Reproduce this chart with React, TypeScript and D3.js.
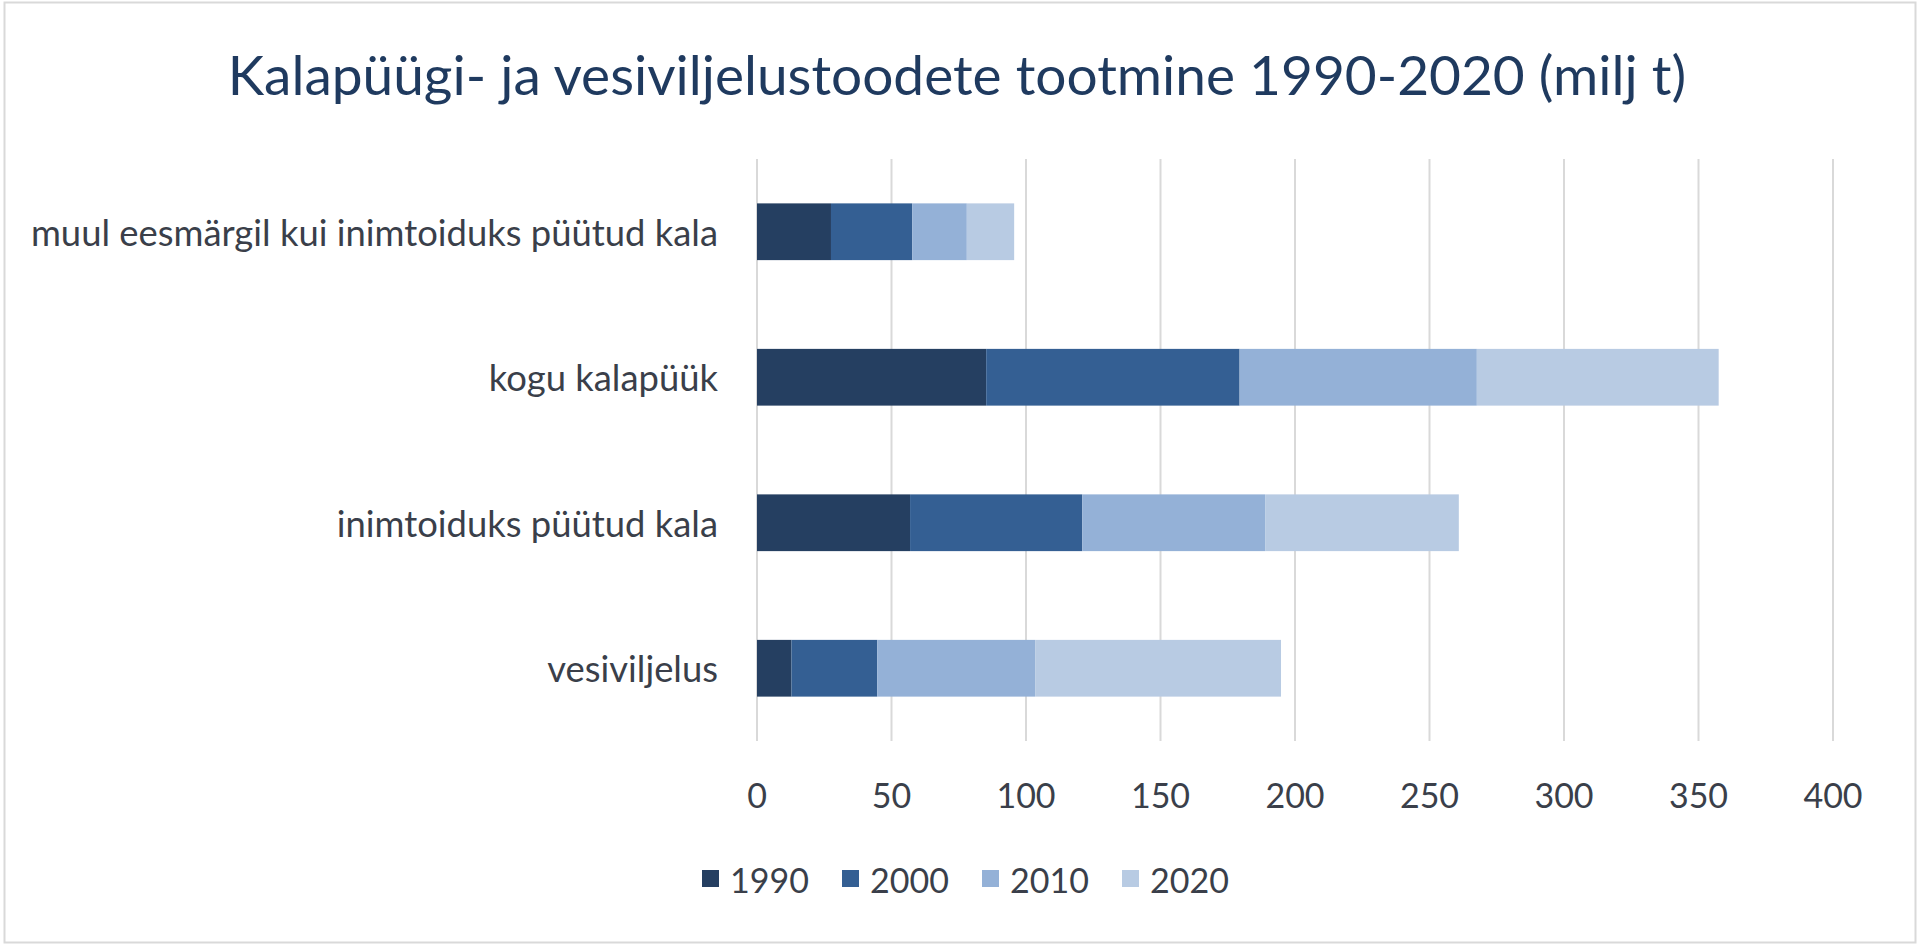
import React from "react";
import * as d3 from "d3";

const categories = [
  "muul eesmärgil kui inimtoiduks püütud kala",
  "kogu kalapüük",
  "inimtoiduks püütud kala",
  "vesiviljelus",
];
const seriesNames = ["1990", "2000", "2010", "2020"];
const values1990 = [27.5, 85.2, 56.9, 12.8];
const values2000 = [30.2, 94.2, 64.0, 31.9];
const values2010 = [20.3, 88.2, 68.0, 58.7];
const values2020 = [17.6, 89.9, 72.0, 91.4];
const xTicks = [0, 50, 100, 150, 200, 250, 300, 350, 400];
const colors = ["#253F61", "#345F93", "#94B1D7", "#B8CBE3"];
const titleText = "Kalapüügi- ja vesiviljelustoodete tootmine 1990-2020 (milj t)";

const W = 1920;
const H = 945;
const FONT = "Lato, 'Open Sans', sans-serif";

export default function App() {
  const x = d3.scaleLinear().domain([0, 400]).range([757, 1833]);
  const y = d3
    .scaleBand<string>()
    .domain(categories)
    .range([159, 741])
    .paddingInner(0.61)
    .paddingOuter(0.305);

  const rows = categories.map((c, i) => ({
    cat: c,
    "1990": values1990[i],
    "2000": values2000[i],
    "2010": values2010[i],
    "2020": values2020[i],
  }));
  const stacked = d3.stack<any>().keys(seriesNames)(rows);

  const legendX = [702, 842, 982, 1122];

  return (
    <div style={{ position: "absolute", left: 0, top: 0 }}>
      <svg width={W} height={H} style={{ display: "block", background: "#fff" }}>
        <rect x={4.5} y={2.5} width={W - 9} height={H - 5} fill="#fff" stroke="#D9D9D9" strokeWidth={2} />
        <text
          x={957}
          y={74}
          textAnchor="middle"
          dominantBaseline="central"
          fontFamily={FONT}
          fontSize={55}
          fill="#1F3A5F"
        >
          {titleText}
        </text>
        {xTicks.map((t) => (
          <g key={t}>
            <line x1={x(t)} x2={x(t)} y1={159} y2={741} stroke="#D9D9D9" strokeWidth={2} />
            <text
              x={x(t)}
              y={794}
              textAnchor="middle"
              dominantBaseline="central"
              fontFamily={FONT}
              fontSize={34}
              fill="#3A3F4A"
            >
              {t}
            </text>
          </g>
        ))}
        {stacked.map((s, si) => (
          <g key={s.key} fill={colors[si]}>
            {s.map((d: any, i: number) => (
              <rect
                key={i}
                x={x(d[0])}
                width={x(d[1]) - x(d[0])}
                y={y(categories[i])}
                height={y.bandwidth()}
              />
            ))}
          </g>
        ))}
        {categories.map((c) => (
          <text
            key={c}
            x={718}
            y={(y(c) as number) + y.bandwidth() / 2}
            textAnchor="end"
            dominantBaseline="central"
            fontFamily={FONT}
            fontSize={36.4}
            fill="#3A3F4A"
          >
            {c}
          </text>
        ))}
        {seriesNames.map((n, i) => (
          <g key={n}>
            <rect x={legendX[i]} y={870} width={17} height={17} fill={colors[i]} />
            <text
              x={legendX[i] + 28}
              y={879}
              dominantBaseline="central"
              fontFamily={FONT}
              fontSize={34}
              fill="#3A3F4A"
            >
              {n}
            </text>
          </g>
        ))}
      </svg>
    </div>
  );
}
